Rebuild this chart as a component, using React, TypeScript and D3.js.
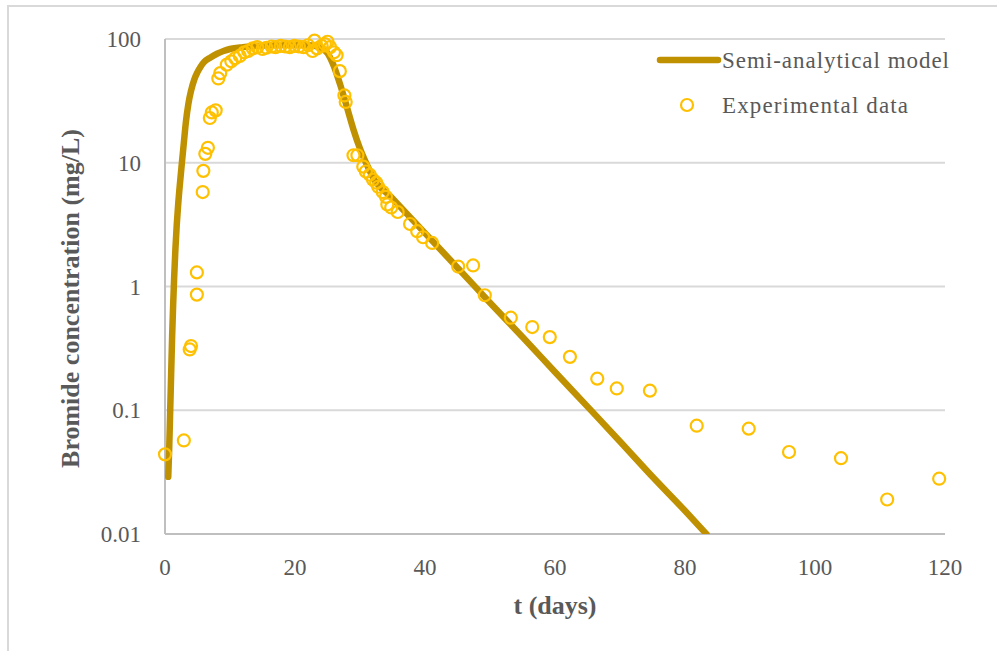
import React from "react";
import * as d3 from "d3";

// Semi-analytical model (time in days, concentration in mg/L)
const modelT = [0.5, 0.65, 0.8, 0.95, 1.1, 1.25, 1.4, 1.6, 1.8, 2.0, 2.3, 2.6, 2.9, 3.2, 3.6, 4.0, 4.5, 5.0, 5.5, 6.0, 7.0, 8.0, 9.0, 10, 12, 14, 16, 18, 20, 22, 23, 24, 25, 26, 27, 28, 29, 30, 31, 32, 35, 40, 45, 50, 55, 60, 65, 70, 75, 80, 83.3];
const modelC = [0.029, 0.05, 0.1, 0.2, 0.4, 0.7, 1.15, 2.0, 3.1, 4.4, 6.8, 10, 14.5, 21, 30, 38, 47, 54, 60, 65, 71, 76, 80, 83, 86, 88, 89, 89.5, 89.5, 89, 88, 85, 77, 60, 42, 28, 18.5, 13, 9.8, 7.6, 5.15, 2.7, 1.42, 0.74, 0.39, 0.204, 0.107, 0.056, 0.029, 0.0154, 0.01];

// Experimental data
const expT = [0.0, 2.9, 3.8, 4.0, 4.9, 4.9, 5.8, 5.9, 6.2, 6.6, 6.9, 7.2, 7.8, 8.2, 8.5, 9.5, 10.2, 10.8, 11.5, 12.2, 12.8, 13.5, 14.2, 15.0, 15.6, 16.4, 17.0, 17.8, 18.5, 19.2, 19.9, 20.6, 21.3, 22.0, 22.7, 23.0, 23.4, 24.1, 24.6, 25.0, 25.4, 26.0, 26.4, 26.9, 27.6, 27.8, 29.0, 29.6, 30.5, 30.9, 31.5, 32.0, 32.5, 32.8, 33.5, 34.0, 34.2, 34.8, 35.8, 37.7, 38.8, 39.7, 41.1, 45.1, 47.4, 49.2, 53.2, 56.5, 59.2, 62.3, 66.5, 69.5, 74.6, 81.8, 89.8, 96.0, 104.0, 111.1, 119.1];
const expC = [0.044, 0.057, 0.31, 0.33, 1.3, 0.86, 5.8, 8.6, 11.8, 13.2, 23, 25.5, 26.5, 48, 53, 62, 66, 70, 73, 78, 80, 84, 86, 83, 85, 87, 86, 88, 87, 86, 88, 87, 86, 89, 80, 97, 84, 88, 91, 95, 86, 78, 74, 55, 35, 31, 11.5, 11.5, 9.3, 8.5, 8.0, 7.3, 6.9, 6.4, 5.8, 5.3, 4.6, 4.35, 4.0, 3.2, 2.8, 2.5, 2.25, 1.45, 1.48, 0.85, 0.56, 0.47, 0.39, 0.27, 0.18, 0.15, 0.144, 0.075, 0.071, 0.046, 0.041, 0.019, 0.028];

const xTicks = [0, 20, 40, 60, 80, 100, 120];
const yTicks = [0.01, 0.1, 1, 10, 100];
const yTickLabels = ["0.01", "0.1", "1", "10", "100"];

const W = 997;
const H = 651;
const modelColor = "#BF9000";
const expColor = "#FFC000";
const textColor = "#595959";
const gridColor = "#D9D9D9";
const serif = "'Liberation Serif', 'Times New Roman', serif";

export default function App() {
  const x = d3.scaleLinear().domain([0, 120]).range([165, 945]);
  const y = d3.scaleLog().domain([0.01, 100]).range([534, 39]);

  const model = modelT.map((t, i) => [t, modelC[i]] as [number, number]);
  const line = d3
    .line<[number, number]>()
    .x((d) => x(d[0]))
    .y((d) => y(d[1]))
    .curve(d3.curveMonotoneX);

  const [x0, x1] = x.range();
  const [yb, yt] = y.range();

  return (
    <svg
      width={W}
      height={H}
      style={{ position: "absolute", left: 0, top: 0, background: "#fff" }}
    >
      <defs>
        <clipPath id="plotClip">
          <rect x={x0 - 10} y={yt - 20} width={x1 - x0 + 20} height={yb - yt + 20} />
        </clipPath>
      </defs>
      <rect x={0} y={0} width={W} height={H} fill="#fff" />
      {/* chart area frame */}
      <rect x={8} y={6} width={W + 20} height={H + 20} fill="none" stroke={gridColor} strokeWidth={2} />

      {/* horizontal gridlines */}
      {yTicks.map((v) => (
        <line
          key={v}
          x1={x0}
          x2={x1}
          y1={y(v)}
          y2={y(v)}
          stroke={v === 0.01 ? "#BFBFBF" : gridColor}
          strokeWidth={2}
        />
      ))}
      {/* left axis line */}
      <line x1={x0} x2={x0} y1={yt} y2={yb} stroke="#BFBFBF" strokeWidth={2} />

      {/* y tick labels */}
      {yTicks.map((v, i) => (
        <text
          key={v}
          x={141}
          y={y(v)}
          dy="0.35em"
          textAnchor="end"
          fontFamily={serif}
          fontSize={23}
          fill={textColor}
        >
          {yTickLabels[i]}
        </text>
      ))}
      {/* x tick labels */}
      {xTicks.map((v) => (
        <text
          key={v}
          x={x(v)}
          y={567}
          dy="0.35em"
          textAnchor="middle"
          fontFamily={serif}
          fontSize={23}
          fill={textColor}
        >
          {v}
        </text>
      ))}

      {/* axis titles */}
      <text
        x={555}
        y={605}
        dy="0.35em"
        textAnchor="middle"
        fontFamily={serif}
        fontWeight="bold"
        fontSize={26}
        fill={textColor}
      >
        t (days)
      </text>
      <text
        transform={`translate(70, ${(yt + yb) / 2 + 12}) rotate(-90)`}
        textAnchor="middle"
        dy="0.35em"
        fontFamily={serif}
        fontWeight="bold"
        fontSize={26}
        fill={textColor}
      >
        Bromide concentration (mg/L)
      </text>

      {/* model curve */}
      <g clipPath="url(#plotClip)">
        <path
          d={line(model) || ""}
          fill="none"
          stroke={modelColor}
          strokeWidth={6.5}
          strokeLinecap="round"
          strokeLinejoin="round"
        />
      </g>

      {/* experimental points */}
      {expT.map((t, i) => (
        <circle
          key={i}
          cx={x(t)}
          cy={y(expC[i])}
          r={6}
          fill="none"
          stroke={expColor}
          strokeWidth={2.2}
        />
      ))}

      {/* legend */}
      <line x1={660} x2={718} y1={60} y2={60} stroke={modelColor} strokeWidth={6.5} strokeLinecap="round" />
      <text
        x={722}
        y={60}
        dy="0.35em"
        fontFamily={serif}
        fontSize={23}
        fill={textColor}
        textLength={227}
        lengthAdjust="spacing"
      >
        Semi-analytical model
      </text>
      <circle cx={687} cy={105} r={6} fill="none" stroke={expColor} strokeWidth={2.2} />
      <text
        x={722}
        y={105}
        dy="0.35em"
        fontFamily={serif}
        fontSize={23}
        fill={textColor}
        textLength={186}
        lengthAdjust="spacing"
      >
        Experimental data
      </text>
    </svg>
  );
}
